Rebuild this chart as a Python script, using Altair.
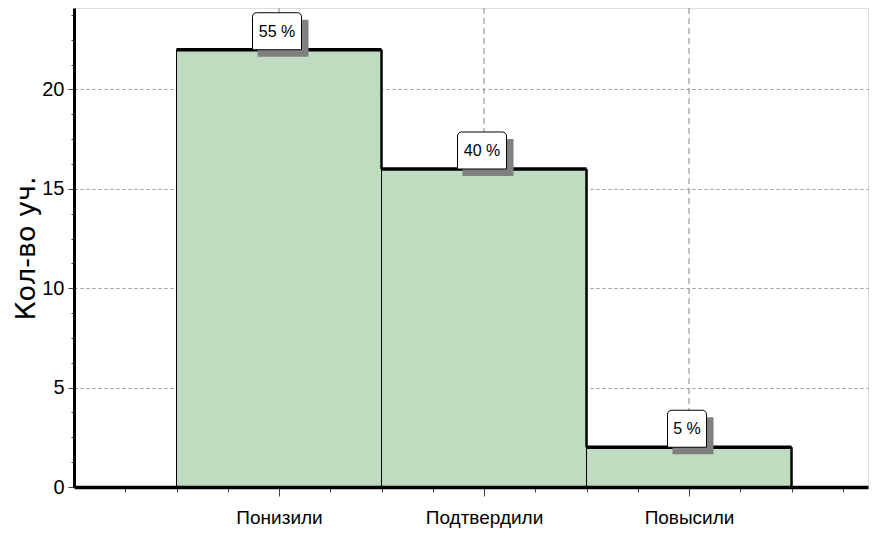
import altair as alt
import pandas as pd

categories = ["Понизили", "Подтвердили", "Повысили"]
counts = [22, 16, 2]
percent_labels = ["55 %", "40 %", "5 %"]

FONT = "Liberation Sans, Arial, sans-serif"

n = len(categories)
centers = [i + 1 for i in range(n)]
df = pd.DataFrame({
    "cat": categories,
    "count": counts,
    "label": percent_labels,
    "center": centers,
    "lo": [c - 0.5 for c in centers],
    "hi": [c + 0.5 for c in centers],
    "next": counts[1:] + [0],
})

label_expr = " : ".join(
    f"datum.value == {c} ? '{name}'" for c, name in zip(centers, categories)
) + " : ''"

x_ticks = [0.25 * k for k in range(1, 16)]
y_ticks = [1.25 * k for k in range(0, 20)]

X_SCALE = alt.Scale(domain=[0, 3.873], nice=False, zero=False)
Y_SCALE = alt.Scale(domain=[0, 24.1], nice=False)

X_AXIS = alt.Axis(
    values=x_ticks, labelExpr=label_expr, title=None, grid=False,
    domainColor="black", domainWidth=3.5,
    tickColor="#444", tickWidth=1,
    tickSize={"condition": {"test": "datum.value % 1 === 0", "value": 9}, "value": 5},
    labelFont=FONT, labelFontSize=19, labelColor="black", labelPadding=12,
    labelOverlap=False, labelFlush=False, zindex=1,
)
Y_AXIS = alt.Axis(
    values=y_ticks, labelExpr="datum.value % 5 === 0 ? datum.label : ''",
    title="Кол-во уч.", titleFont="DejaVu Sans", titleFontSize=27,
    titleFontWeight="normal", titleColor="black",
    titleX=-40, titleY=240, titleBaseline="alphabetic", titleAngle=270,
    domainColor="black", domainWidth=3,
    tickColor="#444", tickWidth=1,
    tickSize={"condition": {"test": "datum.value % 5 === 0", "value": 6}, "value": 3},
    labelFont=FONT, labelFontSize=20, labelColor="black", labelPadding=4,
    labelOverlap=False, labelFlush=False,
    grid=True, gridColor="#999", gridDash=[3, 3], gridWidth=1.2,
    gridOpacity={"condition": {"test": "datum.value % 5 === 0 && datum.value > 0", "value": 1}, "value": 0},
)

base = alt.Chart(df)

vgrid = base.mark_rule(color="#999", strokeDash=[6, 4], strokeWidth=1.2).encode(
    x=alt.X("center:Q", scale=X_SCALE, axis=X_AXIS),
)

bars = base.mark_rect(fill="#C0DCC0", stroke="black", strokeWidth=1).encode(
    x=alt.X("lo:Q", scale=X_SCALE, axis=X_AXIS),
    x2="hi:Q",
    y=alt.Y("count:Q", scale=Y_SCALE, axis=Y_AXIS),
    y2=alt.datum(0),
)

tops = base.mark_rule(color="black", strokeWidth=3.5).encode(
    x=alt.X("lo:Q", scale=X_SCALE, axis=X_AXIS),
    x2="hi:Q",
    y=alt.Y("count:Q", scale=Y_SCALE, axis=Y_AXIS),
)

drops = base.mark_rule(color="black", strokeWidth=2.5).encode(
    x=alt.X("hi:Q", scale=X_SCALE, axis=X_AXIS),
    y=alt.Y("count:Q", scale=Y_SCALE, axis=Y_AXIS),
    y2="next:Q",
)


def box_layers(data_filter, half_w):
    sub = base.transform_filter(data_filter)
    enc = dict(
        x=alt.X("center:Q", scale=X_SCALE, axis=X_AXIS),
        x2="center:Q",
        y=alt.Y("count:Q", scale=Y_SCALE, axis=Y_AXIS),
        y2="count:Q",
    )
    shadow = sub.mark_rect(
        color="#808080", xOffset=-half_w + 3, x2Offset=half_w + 5,
        yOffset=-30, y2Offset=7,
    ).encode(**enc)
    box = sub.mark_rect(
        fill="white", stroke="black", strokeWidth=1,
        cornerRadiusTopLeft=4, cornerRadiusTopRight=4,
        xOffset=-half_w - 2, x2Offset=half_w - 2,
        yOffset=-37, y2Offset=0,
    ).encode(**enc)
    return [shadow, box]


layers_boxes = box_layers("length(datum.label) > 3", 24.5) + box_layers(
    "length(datum.label) <= 3", 19.5
)

texts = base.mark_text(
    font=FONT, fontSize=16, color="black", dy=-18, dx=-2, baseline="middle"
).encode(
    x=alt.X("center:Q", scale=X_SCALE, axis=X_AXIS),
    y=alt.Y("count:Q", scale=Y_SCALE, axis=Y_AXIS),
    text="label:N",
)

chart = alt.layer(vgrid, bars, tops, drops, *layers_boxes, texts).properties(
    width=794,
    height=479,
    autosize=alt.AutoSizeParams(type="none"),
    padding={"left": 66, "top": 0, "right": 3, "bottom": 42},
).configure_view(stroke=None).configure(background="white")

chart.save("out.html", embed_options={"renderer": "svg", "actions": False})
